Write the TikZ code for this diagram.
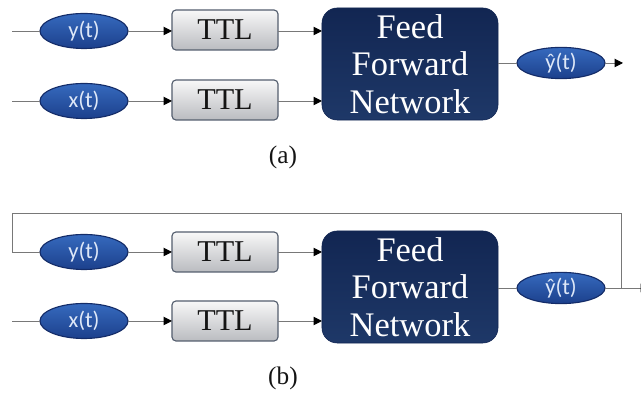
\documentclass[tikz,border=0pt]{standalone}
\usepackage{fontspec}
\setmainfont{Liberation Serif}
\newfontfamily\sigfont{Carlito}
\usetikzlibrary{arrows.meta, shapes.geometric}

\definecolor{nnline}{RGB}{120,120,120}
\definecolor{nnsigtop}{RGB}{54,106,190}
\definecolor{nnsigbot}{RGB}{28,64,140}
\definecolor{nnsigdraw}{RGB}{20,44,104}
\definecolor{nnsigtext}{RGB}{222,232,248}
\definecolor{nnboxtop}{RGB}{248,248,248}
\definecolor{nnboxbot}{RGB}{186,188,192}
\definecolor{nnboxdraw}{RGB}{84,94,110}
\definecolor{nnnettop}{RGB}{18,38,82}
\definecolor{nnnetbot}{RGB}{30,56,104}
\definecolor{nntext}{RGB}{20,20,20}

\begin{document}
\begin{tikzpicture}[
  x=0.025cm,
  y=-0.025cm,
  >={Triangle[length=6pt, width=6pt, color=black]},
  every node/.style={inner sep=0pt, outer sep=0pt},
  nnSignal/.style={ellipse, draw=nnsigdraw, line width=0.8pt, top color=nnsigtop, bottom color=nnsigbot,
    minimum width=2.2cm, minimum height=0.875cm, text=nnsigtext, font=\sigfont\fontsize{16}{16}\selectfont},
  nnOut/.style={nnSignal, minimum height=0.78cm},
  nnDelay/.style={rectangle, rounded corners=0.1cm, draw=nnboxdraw, line width=0.8pt, top color=nnboxtop,
    bottom color=nnboxbot, minimum width=2.65cm, minimum height=1.0cm, text=nntext, font=\rmfamily\fontsize{21.5}{21.5}\selectfont},
  nnNet/.style={rectangle, rounded corners=0.38cm, draw=nnnettop, top color=nnnettop, bottom color=nnnetbot,
    minimum width=4.4cm, minimum height=2.8cm, text=white, align=center, font=\rmfamily\fontsize{24.5}{26.5}\selectfont},
  nnCaption/.style={text=nntext, font=\rmfamily\fontsize{18}{18}\selectfont},
  nnLink/.style={draw=nnline, line width=0.7pt},
  nnArrow/.style={nnLink, ->}
]

  \useasboundingbox (0,0) rectangle (641,398);

  % (a) plain feed forward
  \coordinate (ina1) at (12,31);
  \coordinate (ina2) at (12,101);
  \node[nnSignal] (ya) at (84,31) {y(t)};
  \node[nnSignal] (xa) at (84,101) {x(t)};
  \node[nnDelay] (ttla1) at (225,30) {TTL};
  \node[nnDelay] (ttla2) at (225,100) {TTL};
  \node[nnNet] (neta) at (410,64) {Feed\\Forward\\Network};
  \node[nnOut] (yhata) at (561,63) {ŷ(t)};
  \coordinate (outa) at (623,63);
  \node[nnCaption] (capa) at (283,157) {(a)};

  \draw[nnLink] (ina1) -- (ya.west);
  \draw[nnLink] (ina2) -- (xa.west);
  \draw[nnArrow] (ya.east) -- (ttla1.west |- ya.east);
  \draw[nnArrow] (xa.east) -- (ttla2.west |- xa.east);
  \draw[nnArrow] (ttla1.east |- ya.east) -- (neta.west |- ya.east);
  \draw[nnArrow] (ttla2.east |- xa.east) -- (neta.west |- xa.east);
  \draw[nnLink] (neta.east |- yhata.west) -- (yhata.west);
  \draw[nnArrow] (yhata.east) -- (outa);

  % (b) output fed back to the input
  \coordinate (inb2) at (12,321);
  \coordinate (fbleft) at (12,213);
  \node[nnSignal] (yb) at (84,252) {y(t)};
  \node[nnSignal] (xb) at (84,321) {x(t)};
  \node[nnDelay] (ttlb1) at (225,252) {TTL};
  \node[nnDelay] (ttlb2) at (225,321) {TTL};
  \node[nnNet] (netb) at (410,287) {Feed\\Forward\\Network};
  \node[nnOut] (yhatb) at (561,288) {ŷ(t)};
  \coordinate (tap) at (621,288);
  \coordinate (outb) at (649,288);
  \node[nnCaption] (capb) at (283,378) {(b)};

  \draw[nnLink] (inb2) -- (xb.west);
  \draw[nnArrow] (yb.east) -- (ttlb1.west |- yb.east);
  \draw[nnArrow] (xb.east) -- (ttlb2.west |- xb.east);
  \draw[nnArrow] (ttlb1.east |- yb.east) -- (netb.west |- yb.east);
  \draw[nnArrow] (ttlb2.east |- xb.east) -- (netb.west |- xb.east);
  \draw[nnLink] (netb.east |- yhatb.west) -- (yhatb.west);
  \draw[nnArrow] (yhatb.east) -- (outb);
  \draw[nnLink] (tap) |- (fbleft) |- (yb.west);

\end{tikzpicture}
\end{document}
